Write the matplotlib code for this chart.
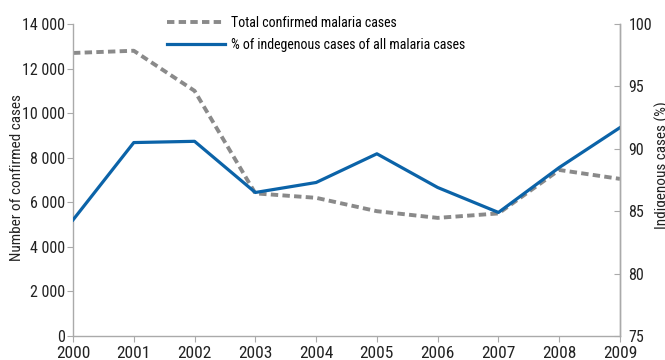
import numpy as np
import matplotlib.pyplot as plt
from matplotlib.ticker import FuncFormatter

plt.rcParams['font.family'] = ['Roboto Condensed', 'DejaVu Sans']

years = [2000, 2001, 2002, 2003, 2004, 2005, 2006, 2007, 2008, 2009]
total_cases = [12700, 12800, 11000, 6400, 6200, 5600, 5300, 5500, 7450, 7050]
indigenous_pct = [84.3, 90.5, 90.6, 86.5, 87.3, 89.6, 86.9, 84.9, 88.5, 91.7]

blue = '#0b63a8'
gray = '#8a8a8a'
axis_gray = '#aaaaaa'
text_col = '#222222'

W, H = 665, 360
fig = plt.figure(figsize=(W / 100, H / 100), dpi=100)
ax = fig.add_axes([73 / W, 24 / H, 547 / W, 312 / H])
ax2 = ax.twinx()

l1, = ax.plot(years, total_cases, color=gray, linestyle=(0, (1.9, 1.1)), linewidth=2.8)
l2, = ax2.plot(years, indigenous_pct, color=blue, linewidth=2.3)

ax.set_xlim(2000, 2009)
ax.set_ylim(0, 14000)
ax.set_yticks(np.arange(0, 14001, 2000))
ax.yaxis.set_major_formatter(FuncFormatter(lambda v, p: '{:,.0f}'.format(v).replace(',', ' ')))
ax.set_xticks(years)
ax2.set_ylim(75, 100)
ax2.set_yticks(np.arange(75, 101, 5))

for a in (ax, ax2):
    for s in a.spines.values():
        s.set_color(axis_gray)
        s.set_linewidth(1)
    a.spines['top'].set_visible(False)
ax2.spines['left'].set_visible(False)
ax2.spines['bottom'].set_visible(False)

ax.tick_params(axis='y', direction='out', length=4, color=axis_gray, labelsize=11.5, pad=2, labelcolor=text_col)
ax.tick_params(axis='x', direction='out', length=4, color=axis_gray, labelsize=12.5, pad=3, labelcolor=text_col)
ax2.tick_params(axis='y', direction='in', length=4, color=axis_gray, labelsize=11.5, pad=6, labelcolor=text_col)

fig.text(17 / W, 1 - 178 / H, 'Number of confirmed cases', rotation=90, ha='center', va='center',
         fontsize=11, color=text_col)
fig.text(662 / W, 1 - 165 / H, 'Indigenous cases (%)', rotation=90, ha='center', va='center',
         fontsize=11, color=text_col)

fig.legend([l1, l2], ['Total confirmed malaria cases', '% of indegenous cases of all malaria cases'],
           loc='upper left', bbox_to_anchor=(167 / W, 1 - 16 / H), borderaxespad=0, borderpad=0,
           frameon=False, fontsize=10, handlelength=4.2, handletextpad=0.4, labelspacing=0.55)

fig.savefig('out.png', dpi=100)
